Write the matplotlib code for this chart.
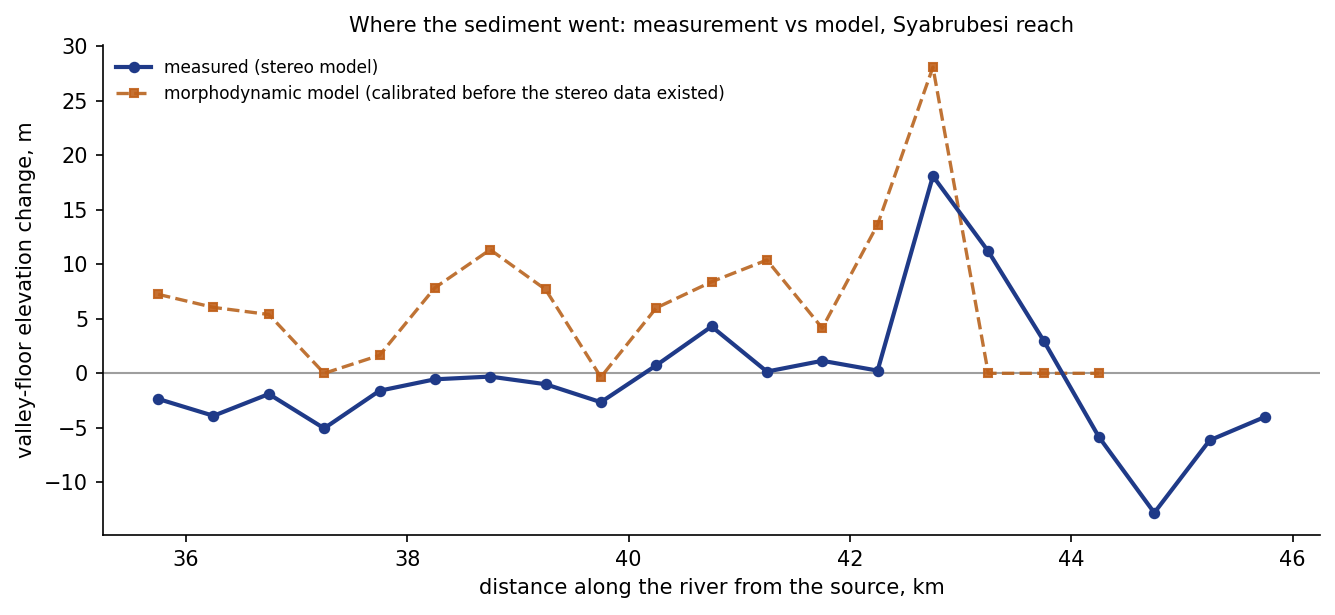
import numpy as np
import matplotlib
matplotlib.use("Agg")
import matplotlib.pyplot as plt

# distance along the river, km
km_measured = [35.75, 36.25, 36.75, 37.25, 37.75, 38.25, 38.75, 39.25, 39.75, 40.25, 40.75,
               41.25, 41.75, 42.25, 42.75, 43.25, 43.75, 44.25, 44.75, 45.25, 45.75]
measured = [-2.35, -3.9, -1.9, -5.05, -1.6, -0.55, -0.3, -1.0, -2.65, 0.73, 4.3,
            0.16, 1.15, 0.25, 18.1, 11.2, 3.0, -5.85, -12.8, -6.15, -4.0]

km_model = [35.75, 36.25, 36.75, 37.25, 37.75, 38.25, 38.75, 39.25, 39.75, 40.25, 40.75,
            41.25, 41.75, 42.25, 42.75, 43.25, 43.75, 44.25]
model = [7.25, 6.05, 5.4, 0.0, 1.65, 7.85, 11.35, 7.7, -0.35, 6.0, 8.4,
         10.4, 4.15, 13.65, 28.1, 0.0, 0.0, 0.0]

fig, ax = plt.subplots(figsize=(8.9, 4.1), dpi=150)
fig.subplots_adjust(left=0.077, right=0.989, top=0.927, bottom=0.130)

ax.axhline(0, color="#9e9e9e", lw=1.0, zorder=1)
ax.plot(km_measured, measured, color="#1f3a88", lw=2.0, marker="o", markersize=4.5,
        label="measured (stereo model)", zorder=3)
ax.plot(km_model, model, color="#b8641f", lw=1.6, ls="--", marker="s", markersize=4.3,
        markerfacecolor="#c0601a", markeredgecolor="#c0601a", alpha=0.9,
        label="morphodynamic model (calibrated before the stereo data existed)", zorder=2)

ax.set_title("Where the sediment went: measurement vs model, Syabrubesi reach", fontsize=10)
ax.set_xlabel("distance along the river from the source, km", fontsize=10)
ax.set_ylabel("valley-floor elevation change, m", fontsize=10)
ax.spines["top"].set_visible(False)
ax.spines["right"].set_visible(False)
ax.legend(loc="upper left", frameon=False, fontsize=8.2, borderaxespad=0.4)

fig.savefig("out.png", dpi=150)
